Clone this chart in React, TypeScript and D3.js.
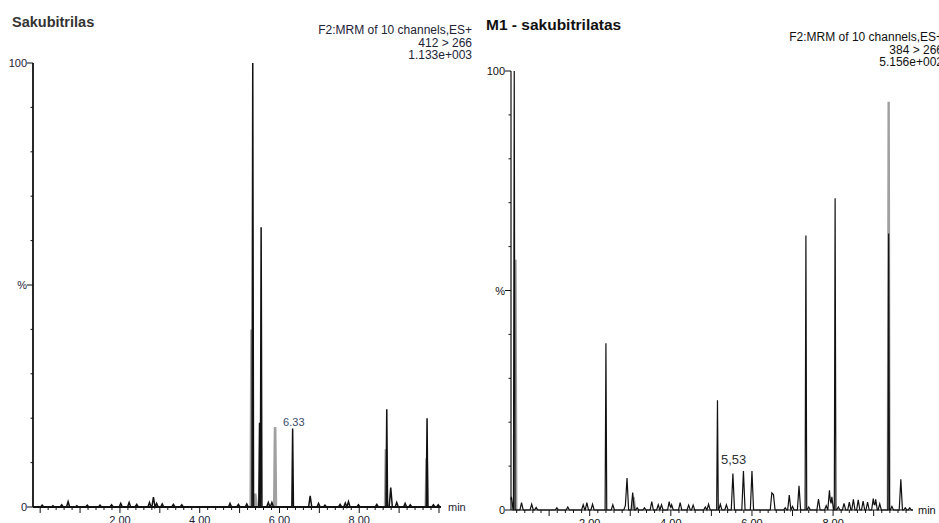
import * as d3 from 'd3';

// retention time (min), relative intensity (%)
const leftBlackPeaks: [number, number][] = [
  [0.05, 0.4], [0.32, 0.3], [0.54, 0.5], [0.70, 1.2], [0.92, 0.3], [1.18, 0.4], [1.50, 0.4], [1.79, 0.5],
  [2.02, 0.8], [2.23, 1.0], [2.42, 0.6], [2.74, 1.0], [2.84, 2.2], [2.92, 0.8], [3.06, 0.7], [3.34, 0.6],
  [3.55, 0.5], [4.76, 0.8], [4.97, 0.6], [5.18, 0.7], [5.33, 100], [5.50, 19], [5.54, 63], [5.72, 1.0],
  [5.81, 1.0], [6.33, 17.7], [6.77, 2.5], [6.98, 0.8], [7.14, 0.4], [7.52, 0.6], [7.65, 0.9], [7.73, 1.2],
  [7.98, 0.5], [8.44, 0.6], [8.69, 22], [8.79, 4.4], [8.94, 1.0], [9.15, 0.8], [9.28, 0.5], [9.70, 20],
  [9.86, 0.5], [9.98, 0.5],
];
const leftGrayPeaks: [number, number][] = [[5.30, 40], [5.39, 3], [5.89, 18], [8.67, 13], [9.69, 11]];

const rightBlackPeaks: [number, number][] = [
  [0.07, 3], [0.14, 100], [0.32, 1.7], [0.57, 1.3], [0.68, 0.6], [1.19, 0.5], [1.46, 0.7], [1.84, 1.2],
  [1.93, 1.7], [2.07, 1.3], [2.40, 38], [2.57, 1.2], [2.88, 1.0], [2.92, 7.3], [3.06, 4], [3.17, 0.5],
  [3.35, 0.5], [3.53, 1.9], [3.69, 1.2], [3.77, 1.2], [3.96, 1.9], [4.02, 1.2], [4.23, 1.7], [4.44, 1.1],
  [4.55, 1.1], [4.85, 0.7], [4.93, 1.3], [5.15, 25], [5.22, 1.3], [5.37, 1.2], [5.53, 8.3], [5.79, 8.9],
  [6.00, 8.9], [6.49, 3.9], [6.53, 3.5], [6.82, 0.5], [6.92, 3.4], [7.00, 0.8], [7.16, 5.5], [7.33, 62.5],
  [7.40, 0.7], [7.64, 2.5], [7.83, 1.0], [7.91, 4.5], [7.97, 3], [8.05, 71], [8.13, 0.7], [8.27, 1.5],
  [8.40, 1.8], [8.50, 2.4], [8.62, 2.3], [8.74, 2.0], [8.85, 1.8], [8.99, 2.6], [9.05, 2.4], [9.15, 1.4],
  [9.37, 63], [9.45, 0.8], [9.67, 7], [9.78, 0.5], [9.89, 0.5],
];
const rightGrayPeaks: [number, number][] = [[0.17, 57], [3.08, 3], [9.37, 93]];

const xLabels = [2, 4, 6, 8];
const yLabels: [number, string][] = [[0, '0'], [50, '%'], [100, '100']];

const FONT = '"Liberation Sans", Arial, sans-serif';

const peakWidth = (h: number) => (h >= 10 ? 0.04 : 0.08);

function traceLine(peaks: [number, number][], domain: [number, number]) {
  const xs = new Set<number>(domain);
  peaks.forEach(([t, h]) => {
    const w = peakWidth(h);
    [t - w / 2, t, t + w / 2].forEach(v => { if (v >= domain[0] && v <= domain[1]) xs.add(v); });
  });
  return Array.from(xs).sort((a, b) => a - b).map(x => {
    let y = 0;
    peaks.forEach(([t, h]) => {
      const w = peakWidth(h) / 2;
      const d = Math.abs(x - t);
      if (d < w) y = Math.max(y, h * (1 - d / w));
    });
    return [x, y] as [number, number];
  });
}

function Panel({ title, titleSize, titleColor, header, headerX, headerY, headerSize, black, gray, domain, xRange, yRange,
  textColor, axisWidth, traceWidth, label, labelAt, labelY, labelColor, labelSize, minX }: any) {
  const x = d3.scaleLinear().domain(domain).range(xRange);
  const y = d3.scaleLinear().domain([0, 100]).range(yRange);
  const line = d3.line<[number, number]>().x(d => x(d[0])).y(d => y(d[1]));
  const pts = traceLine(black, domain);
  const minor = d3.range(Math.ceil(domain[0] / 0.2) * 0.2, domain[1], 0.2);
  const yMinor = d3.range(0, 101, 10);
  return (
    <g fontFamily={FONT}>
      <text x={title.x} y={title.y} fontSize={titleSize} fontWeight="bold" fill={titleColor}>{title.text}</text>
      {header.map((h: string, i: number) => (
        <text key={i} x={headerX} y={headerY + i * 12.5} fontSize={headerSize} textAnchor="end" fill={textColor}>{h}</text>
      ))}
      {gray.map(([t, h]: [number, number], i: number) => {
        const w = peakWidth(h) / 2;
        return <path key={i} d={line([[t - w, 0], [t, h], [t + w, 0]]) || ''} fill="none" stroke="#a0a0a0" strokeWidth={traceWidth + 1.2} />;
      })}
      <path d={line(pts) || ''} fill="none" stroke="#111" strokeWidth={traceWidth} strokeLinejoin="miter" />
      <line x1={xRange[0]} x2={xRange[0]} y1={yRange[0]} y2={yRange[1]} stroke="#111" strokeWidth={axisWidth} />
      <line x1={xRange[0]} x2={xRange[1]} y1={yRange[0]} y2={yRange[0]} stroke="#111" strokeWidth={axisWidth} />
      {yMinor.map(v => (
        <line key={v} x1={xRange[0]} x2={xRange[0] - (v % 50 === 0 ? 6 : 2.5)} y1={y(v)} y2={y(v)} stroke="#111" strokeWidth={1} />
      ))}
      {yLabels.map(([v, s]) => (
        <text key={s} x={xRange[0] - 6} y={y(v) + 4} fontSize={11} textAnchor="end" fill={textColor}>{s}</text>
      ))}
      {minor.map((v, i) => {
        const major = Math.abs(v - Math.round(v)) < 1e-6;
        return <line key={i} x1={x(v)} x2={x(v)} y1={yRange[0]} y2={yRange[0] + (major ? 6 : 3)} stroke="#111" strokeWidth={1} />;
      })}
      {xLabels.map(v => (
        <text key={v} x={x(v)} y={yRange[0] + 17} fontSize={11} textAnchor="middle" fill={textColor}>{v.toFixed(2)}</text>
      ))}
      <text x={minX} y={yRange[0] + 4} fontSize={11} fill={textColor}>min</text>
      <text x={x(labelAt)} y={y(labelY)} fontSize={labelSize} textAnchor="middle" fill={labelColor}>{label}</text>
    </g>
  );
}

export default function App() {
  return (
    <svg width={939} height={523} style={{ position: 'absolute', left: 0, top: 0, background: '#fff', overflow: 'hidden' }}>
      <rect width={939} height={523} fill="#fff" />
      <Panel
        title={{ text: 'Sakubitrilas', x: 12, y: 27 }} titleSize={14.5} titleColor="#333"
        header={['F2:MRM of 10 channels,ES+', '412 > 266', '1.133e+003']} headerX={472} headerY={34} headerSize={12}
        black={leftBlackPeaks} gray={leftGrayPeaks} domain={[-0.18, 10.05]} xRange={[33, 441]} yRange={[507, 63]}
        textColor="#222236" axisWidth={1.8} traceWidth={1.5}
        label="6.33" labelAt={6.36} labelY={18.3} labelColor="#3b4a6e" labelSize={11} minX={448}
      />
      <Panel
        title={{ text: 'M1 - sakubitrilatas', x: 486, y: 30 }} titleSize={15.5} titleColor="#111"
        header={['F2:MRM of 10 channels,ES+', '384 > 266', '5.156e+002']} headerX={943} headerY={41} headerSize={12}
        black={rightBlackPeaks} gray={rightGrayPeaks} domain={[0.06, 9.97]} xRange={[511, 913]} yRange={[510, 71]}
        textColor="#111" axisWidth={1.2} traceWidth={1.2}
        label="5,53" labelAt={5.55} labelY={10.5} labelColor="#333" labelSize={13} minX={918}
      />
    </svg>
  );
}
